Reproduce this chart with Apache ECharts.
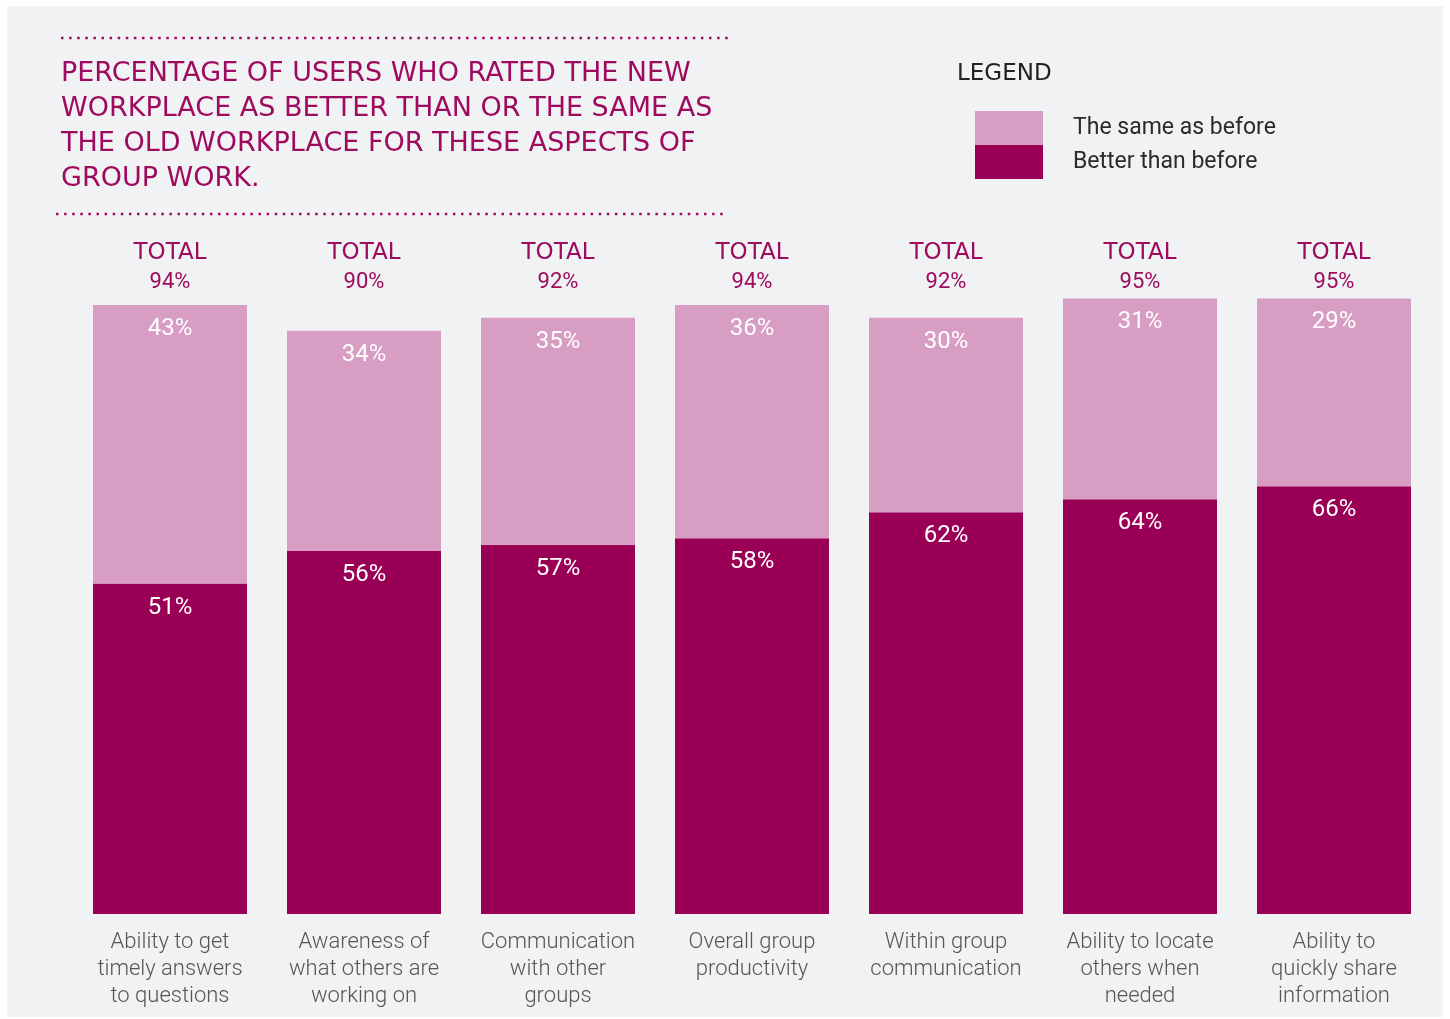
<!DOCTYPE html>
<html>
<head>
<meta charset="utf-8">
<script src="https://cdn.jsdelivr.net/npm/echarts@6/dist/echarts.min.js"></script>
<style>
html,body{margin:0;padding:0;background:#ffffff;}
#chart{width:1450px;height:1019px;}
</style>
</head>
<body>
<div id="chart"></div>
<script>
var categories = [
  "Ability to get\ntimely answers\nto questions",
  "Awareness of\nwhat others are\nworking on",
  "Communication\nwith other\ngroups",
  "Overall group\nproductivity",
  "Within group\ncommunication",
  "Ability to locate\nothers when\nneeded",
  "Ability to\nquickly share\ninformation"
];
var betterThanBefore = [51, 56, 57, 58, 62, 64, 66];
var sameAsBefore = [43, 34, 35, 36, 30, 31, 29];
var totals = [94, 90, 92, 94, 92, 95, 95];

var DARK = "#990055";
var LIGHT = "#d89dc3";
var MAGENTA = "#9e0b5e";
var FONT = "Roboto";
var WIDE = "DejaVu Sans";

var chart = echarts.init(document.getElementById("chart"));
chart.setOption({
  backgroundColor: "#ffffff",
  animation: false,
  textStyle: {fontFamily: FONT},
  graphic: [
    {type: "rect", left: 7, top: 6, shape: {width: 1436, height: 1011}, style: {fill: "#f1f2f4"}, z: -10},
    {type: "line", shape: {x1: 61, y1: 38, x2: 733, y2: 38}, style: {stroke: MAGENTA, lineWidth: 2.5, lineDash: [2.5, 5.6]}},
    {type: "line", shape: {x1: 56, y1: 214, x2: 728, y2: 214}, style: {stroke: MAGENTA, lineWidth: 2.5, lineDash: [2.5, 5.6]}},
    {type: "text", left: 61, top: 56, style: {
      text: "PERCENTAGE OF USERS WHO RATED THE NEW\nWORKPLACE AS BETTER THAN OR THE SAME AS\nTHE OLD WORKPLACE FOR THESE ASPECTS OF\nGROUP WORK.",
      fill: MAGENTA, font: "27px '" + WIDE + "'", lineHeight: 35}},
    {type: "text", left: 957, top: 63, style: {text: "LEGEND", fill: "#222222", font: "23px '" + WIDE + "'"}}
  ],
  legend: {
    orient: "vertical",
    left: 970,
    top: 106,
    itemWidth: 68,
    itemHeight: 34,
    itemGap: 0,
    icon: "rect",
    data: ["The same as before", "Better than before"],
    textStyle: {fontSize: 23, color: "#2b2b2b", padding: [0, 0, 0, 25], fontFamily: FONT},
    selectedMode: false
  },
  grid: {left: 73, right: 19, top: 266, bottom: 105},
  xAxis: [
    {
      type: "category",
      data: categories,
      axisLine: {show: false},
      axisTick: {show: false},
      axisLabel: {color: "#555555", fontSize: 22, lineHeight: 27, margin: 15, interval: 0, fontWeight: 300}
    },
    {
      type: "category",
      position: "top",
      offset: -31,
      data: totals,
      axisLine: {show: false},
      axisTick: {show: false},
      axisLabel: {
        interval: 0,
        margin: 0,
        formatter: function (v) { return "{t|TOTAL}\n{v|" + v + "%}"; },
        rich: {
          t: {fontSize: 23, color: MAGENTA, lineHeight: 29, fontFamily: WIDE, align: "center"},
          v: {fontSize: 22, color: MAGENTA, lineHeight: 29, fontFamily: FONT, align: "center"}
        }
      }
    }
  ],
  yAxis: {type: "value", min: 0, max: 100, show: false, splitLine: {show: false}},
  series: [
    {
      name: "Better than before",
      type: "bar",
      stack: "all",
      barWidth: 154,
      data: betterThanBefore,
      itemStyle: {color: DARK},
      label: {show: true, position: "insideTop", distance: 12, color: "#ffffff", fontSize: 24, formatter: "{c}%"}
    },
    {
      name: "The same as before",
      type: "bar",
      stack: "all",
      barWidth: 154,
      data: sameAsBefore,
      itemStyle: {color: LIGHT},
      label: {show: true, position: "insideTop", distance: 12, color: "#ffffff", fontSize: 24, formatter: "{c}%"}
    }
  ]
});
</script>
</body>
</html>
